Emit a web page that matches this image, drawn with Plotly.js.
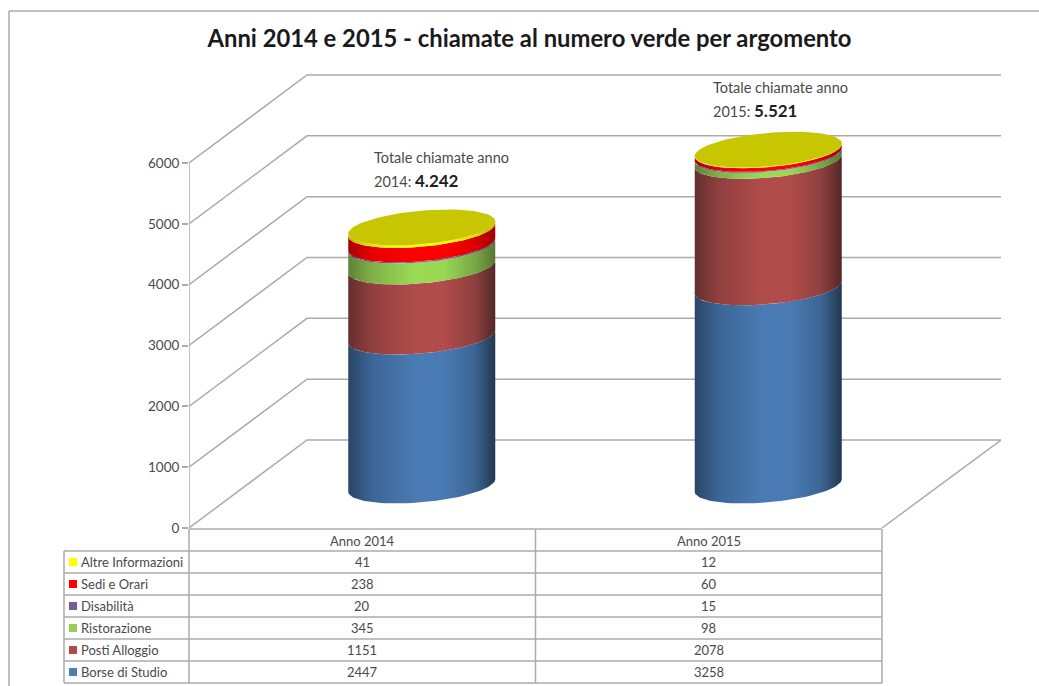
<!DOCTYPE html>
<html>
<head>
<meta charset="utf-8">
<script src="https://cdn.plot.ly/plotly-3.0.1.min.js"></script>
<style>html,body{margin:0;padding:0;background:#fff;overflow:hidden}</style>
</head>
<body>
<div id="chart" style="width:1039px;height:686px"></div>
<script>
// ---- data ----
const categories = ['Anno 2014', 'Anno 2015'];
const seriesNames = ['Borse di Studio', 'Posti Alloggio', 'Ristorazione', 'Disabilità', 'Sedi e Orari', 'Altre Informazioni'];
const borse = [2447, 3258];
const alloggio = [1151, 2078];
const ristorazione = [345, 98];
const disabilita = [20, 15];
const sedi = [238, 60];
const altre = [41, 12];
const yTicks = [0, 1000, 2000, 3000, 4000, 5000, 6000];
const totals = ['4.242', '5.521'];
const years = ['2014', '2015'];

// ---- styles ----
const swatches = ['#4a7ebb', '#b04a48', '#97cf52', '#7a5a9e', '#ff0000', '#ffff00'];
const ramps = [
  ['#2a4566', '#3c6595', '#4a7ab3', '#4a7ab3', '#3c6595', '#223850'],
  ['#622f2e', '#913f3f', '#b04c4a', '#b04c4a', '#8e403f', '#542827'],
  ['#5d8236', '#7fb048', '#9adb55', '#98d854', '#78a844', '#567831'],
  ['#4a3762', '#6b5090', '#7f60a8', '#7a5ca2', '#664c88', '#443259'],
  ['#a80000', '#e60000', '#ff0000', '#ff0000', '#dc0000', '#a00000'],
  ['#b0b000', '#e8e800', '#ffff00', '#ffff00', '#e0e000', '#a8a800']
];
const capColor = '#c8c600';
const gridColor = '#ababab';
const textColor = '#4a4a4a';
const fontFamily = 'Lato, "Open Sans", sans-serif';

// ---- geometry of the page, the axes and the 3-D box (in pixels) ----
const W = 1039, H = 686;
const ml = 189, mr = 38, mt = 70, mb = 158;
const pxPerUnit = 365 / 6000;               // y scale
const catPx = 346.5;                        // width of one category
const plotW = W - ml - mr, plotH = H - mt - mb;
const xMax = plotW / catPx, yMax = plotH / pxPerUnit;
const backDx = 118 / catPx, backDy = 88 / pxPerUnit;     // depth of the box
const midDx = 59.5 / catPx, midDy = 42.5 / pxPerUnit;    // cylinders stand mid-depth
const halfW = 73.5 / catPx, halfB = 16.8 / pxPerUnit, skew = 6.3 / pxPerUnit;

const stackSeries = [borse, alloggio, ristorazione, disabilita, sedi, altre];
const traces = [];

// y axis line, drawn from the tick range so it is not clipped at the plot edge
traces.push({x: [0, 0], y: [yTicks[0], yTicks[yTicks.length - 1]], mode: 'lines', type: 'scatter',
  hoverinfo: 'skip', showlegend: false, line: {color: gridColor, width: 1.5}, cliponaxis: false});

// back wall + side lines, one per y tick
yTicks.forEach(v => {
  const xs = v === 0 ? [0, backDx, xMax, 2] : [0, backDx, xMax];
  const ys = v === 0 ? [0, backDy, backDy, 0] : [v, v + backDy, v + backDy];
  traces.push({x: xs, y: ys, mode: 'lines', type: 'scatter', hoverinfo: 'skip', showlegend: false,
    line: {color: gridColor, width: 1.5}, cliponaxis: false});
});

// elliptical arc of a cylinder at a given stacked value
function arc(i, value, from, to, n) {
  const cx = i + 0.5 + midDx, cy = value + midDy, xs = [], ys = [];
  for (let k = 0; k <= n; k++) {
    const t = from + (to - from) * k / n;
    xs.push(cx + halfW * Math.cos(t));
    ys.push(cy + skew * Math.cos(t) - halfB * Math.sin(t));
  }
  return {xs, ys};
}

categories.forEach((cat, i) => {
  let lo = 0;
  stackSeries.forEach((series, s) => {
    const hi = lo + series[i];
    const a = arc(i, lo, 0, Math.PI, 48), b = arc(i, hi, Math.PI, 0, 48);
    const stops = ramps[s].map((c, k) => [[0, 0.16, 0.45, 0.65, 0.86, 1][k], c]);
    traces.push({
      type: 'scatter', mode: 'lines', name: seriesNames[s] + ' ' + cat,
      x: a.xs.concat(b.xs), y: a.ys.concat(b.ys), fill: 'toself',
      fillgradient: {type: 'horizontal', colorscale: stops},
      line: {width: 0, color: ramps[s][2]}, showlegend: false, cliponaxis: false,
      hoverinfo: 'text', hoveron: 'fills', text: seriesNames[s] + ': ' + series[i]
    });
    lo = hi;
  });
  const cap = arc(i, lo, 0, 2 * Math.PI, 96);
  traces.push({
    type: 'scatter', mode: 'lines', x: cap.xs, y: cap.ys, fill: 'toself',
    fillcolor: capColor, line: {width: 0, color: capColor}, showlegend: false,
    cliponaxis: false, hoverinfo: 'skip'
  });
});

// ---- data table + frame, drawn as shapes and real text ----
const py = y => 1 - (y - mt) / plotH;
const pageX = x => (x - ml) / plotW;
const shapes = [], annotations = [];
function line(x0, y0, x1, y1, color, width) {
  shapes.push({type: 'line', xref: 'paper', yref: 'paper', x0: pageX(x0), x1: pageX(x1), y0: py(y0), y1: py(y1),
    line: {color: color || gridColor, width: width || 1.5}, layer: 'above'});
}
function label(x, y, text, anchor, size, color) {
  annotations.push({xref: 'paper', yref: 'paper', x: pageX(x), y: py(y), text, showarrow: false,
    xanchor: anchor || 'center', yanchor: 'middle', align: 'left',
    font: {family: fontFamily, size: size || 13, color: color || textColor}});
}

// frame
line(9, 11, 9, H);
line(9, 11, W, 11);

const colX = [189, 535.5, 882];
const rowTop = 529, rowH = 22, tableLeft = 64;
const rows = seriesNames.length;
// horizontal rules
line(colX[0], rowTop, colX[2], rowTop);
for (let r = 1; r <= rows + 1; r++) {
  line(tableLeft, rowTop + r * rowH, colX[2], rowTop + r * rowH);
}
// vertical rules
line(tableLeft, rowTop + rowH, tableLeft, rowTop + (rows + 1) * rowH);
colX.forEach(x => line(x, rowTop, x, rowTop + (rows + 1) * rowH));
// header
categories.forEach((cat, i) => label((colX[i] + colX[i + 1]) / 2, rowTop + rowH / 2 + 1, cat));
// rows, top to bottom = last series first
for (let r = 0; r < rows; r++) {
  const s = rows - 1 - r;
  const yc = rowTop + rowH * (r + 1) + rowH / 2;
  shapes.push({type: 'rect', xref: 'paper', yref: 'paper', layer: 'above',
    x0: pageX(69), x1: pageX(77), y0: py(yc - 4), y1: py(yc + 4),
    fillcolor: swatches[s], line: {width: 0}});
  label(78.5, yc, seriesNames[s], 'left');
  categories.forEach((cat, i) => label((colX[i] + colX[i + 1]) / 2, yc, String(stackSeries[s][i])));
}

// call-outs with the yearly totals
const calloutX = [372, 711], calloutY = [157, 87];
categories.forEach((cat, i) => {
  label(calloutX[i], calloutY[i], 'Totale chiamate anno', 'left', 14.5);
  label(calloutX[i], calloutY[i] + 23,
    years[i] + ': <span style="font-size:17px;color:#1f1f1f"><b>' + totals[i] + '</b></span>', 'left', 14.5);
});

const layout = {
  width: W, height: H,
  margin: {l: ml, r: mr, t: mt, b: mb, pad: 0},
  paper_bgcolor: '#ffffff', plot_bgcolor: 'rgba(0,0,0,0)',
  showlegend: false, hovermode: 'closest',
  title: {text: '<b>Anni 2014 e 2015 - chiamate al numero verde per argomento</b>',
    x: 529.5 / W, xanchor: 'center', y: 1 - 38.5 / H, yanchor: 'middle',
    font: {family: fontFamily, size: 23.8, color: '#1a1a1a'}},
  xaxis: {range: [0, xMax], visible: false, fixedrange: true},
  yaxis: {range: [0, yMax], tickmode: 'array', tickvals: yTicks, ticktext: yTicks.map(String),
    showgrid: false, zeroline: false, showline: false, ticks: 'outside', ticklen: 6, tickwidth: 1.5,
    ticklabelshift: -2.5,
    tickcolor: gridColor, tickfont: {family: fontFamily, size: 13.5, color: textColor}, fixedrange: true},
  shapes, annotations
};
Plotly.newPlot('chart', traces, layout, {displayModeBar: false});
</script>
</body>
</html>
